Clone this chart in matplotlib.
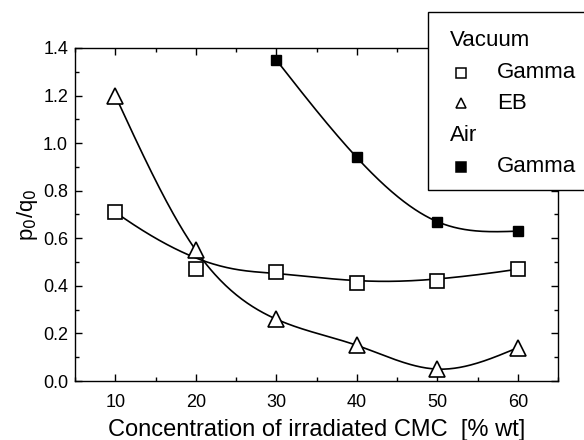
import numpy as np
import matplotlib
matplotlib.use("Agg")
import matplotlib.pyplot as plt
from matplotlib.patches import Rectangle
from matplotlib.lines import Line2D
from matplotlib.ticker import MultipleLocator

plt.rcParams['font.family'] = ['Liberation Sans', 'DejaVu Sans']

conc = [10, 20, 30, 40, 50, 60]
vac_gamma = [0.71, 0.47, 0.46, 0.41, 0.42, 0.47]
vac_eb = [1.20, 0.55, 0.26, 0.15, 0.05, 0.14]
air_conc = [30, 40, 50, 60]
air_gamma = [1.35, 0.94, 0.67, 0.63]

legend_labels = ["Vacuum", "Gamma", "EB", "Air", "Gamma"]


def bspline(px, py, num=300):
    px = np.asarray(px, float); py = np.asarray(py, float)
    n = len(px); k = 3
    knots = np.concatenate([np.zeros(k), np.arange(n - k + 1), np.full(k, n - k)]).astype(float)
    t = np.linspace(0, n - k - 1e-9, num)

    def B(i, p):
        if p == 0:
            return ((knots[i] <= t) & (t < knots[i + 1])).astype(float)
        out = np.zeros_like(t)
        d1 = knots[i + p] - knots[i]
        d2 = knots[i + p + 1] - knots[i + 1]
        if d1 > 0:
            out += (t - knots[i]) / d1 * B(i, p - 1)
        if d2 > 0:
            out += (knots[i + p + 1] - t) / d2 * B(i + 1, p - 1)
        return out

    bx = np.zeros_like(t); by = np.zeros_like(t)
    for i in range(n):
        b = B(i, k)
        bx += b * px[i]; by += b * py[i]
    return bx, by


def natural_spline(x, y, num=300):
    x = np.asarray(x, float); y = np.asarray(y, float)
    n = len(x); h = np.diff(x)
    A = np.zeros((n, n)); r = np.zeros(n)
    A[0, 0] = A[-1, -1] = 1
    for i in range(1, n - 1):
        A[i, i - 1] = h[i - 1]; A[i, i] = 2 * (h[i - 1] + h[i]); A[i, i + 1] = h[i]
        r[i] = 6 * ((y[i + 1] - y[i]) / h[i] - (y[i] - y[i - 1]) / h[i - 1])
    M = np.linalg.solve(A, r)
    xs = np.linspace(x[0], x[-1], num)
    idx = np.clip(np.searchsorted(x, xs) - 1, 0, n - 2)
    x0 = x[idx]; x1 = x[idx + 1]; hh = h[idx]
    S = (M[idx] * (x1 - xs) ** 3 / (6 * hh) + M[idx + 1] * (xs - x0) ** 3 / (6 * hh)
         + (y[idx] / hh - M[idx] * hh / 6) * (x1 - xs)
         + (y[idx + 1] / hh - M[idx + 1] * hh / 6) * (xs - x0))
    return xs, S


fig = plt.figure(figsize=(5.84, 4.4), dpi=100)
ax = fig.add_axes([75 / 584, 1 - 381 / 440, (558 - 75) / 584, (381 - 48) / 440])

lw = 1.2
cx, cy = bspline(conc, vac_gamma)
ax.plot(cx, cy, color='black', lw=lw, zorder=2)
cx, cy = natural_spline(conc, vac_eb)
ax.plot(cx, cy, color='black', lw=lw, zorder=2)
cx, cy = natural_spline(air_conc, air_gamma)
ax.plot(cx, cy, color='black', lw=lw, zorder=2)

ax.plot(conc, vac_gamma, ls='none', marker='s', ms=9.5, mfc='white', mec='black', mew=1.2, zorder=3)
ax.plot(conc, vac_eb, ls='none', marker='^', ms=11, mfc='white', mec='black', mew=1.2, zorder=3)
ax.plot(air_conc, air_gamma, ls='none', marker='s', ms=7.5, mfc='black', mec='black', mew=1.0, zorder=3)

ax.set_xlim(5, 65)
ax.set_ylim(0, 1.4)
ax.xaxis.set_major_locator(MultipleLocator(10))
ax.xaxis.set_minor_locator(MultipleLocator(5))
ax.yaxis.set_major_locator(MultipleLocator(0.2))
ax.yaxis.set_minor_locator(MultipleLocator(0.1))
ax.yaxis.set_major_formatter(matplotlib.ticker.FormatStrFormatter('%.1f'))
ax.tick_params(which='both', direction='in', top=True, right=True, labelsize=13, width=1.0, colors='black')
ax.tick_params(which='major', length=5)
ax.tick_params(which='minor', length=3)
ax.tick_params(axis='x', pad=9)
ax.tick_params(axis='y', pad=5)
for s in ax.spines.values():
    s.set_linewidth(1.0)

ax.set_xlabel('Concentration of irradiated CMC  [% wt]', fontsize=17, labelpad=6)
ax.set_ylabel('p$_0$/q$_0$', fontsize=16, labelpad=2)

# manual legend
fig.patches.append(Rectangle((428 / 584, 1 - 190 / 440), 0.4, (190 - 12) / 440,
                             transform=fig.transFigure, facecolor='white', edgecolor='black',
                             lw=1.0, zorder=10))
rows_y = [41, 73, 103, 135, 167]
markers = [None, ('s', 'white'), ('^', 'white'), None, ('s', 'black')]
for lab, yy, mk in zip(legend_labels, rows_y, markers):
    yf = 1 - yy / 440
    if mk is None:
        fig.text(450 / 584, yf, lab, fontsize=16, va='center', ha='left', zorder=11)
    else:
        fig.lines.append(Line2D([461 / 584], [yf], transform=fig.transFigure, ls='none',
                                marker=mk[0], ms=7.5, mfc=mk[1], mec='black', mew=1.1, zorder=11))
        fig.text(497 / 584, yf, lab, fontsize=16, va='center', ha='left', zorder=11)

fig.savefig('out.png', dpi=100)
